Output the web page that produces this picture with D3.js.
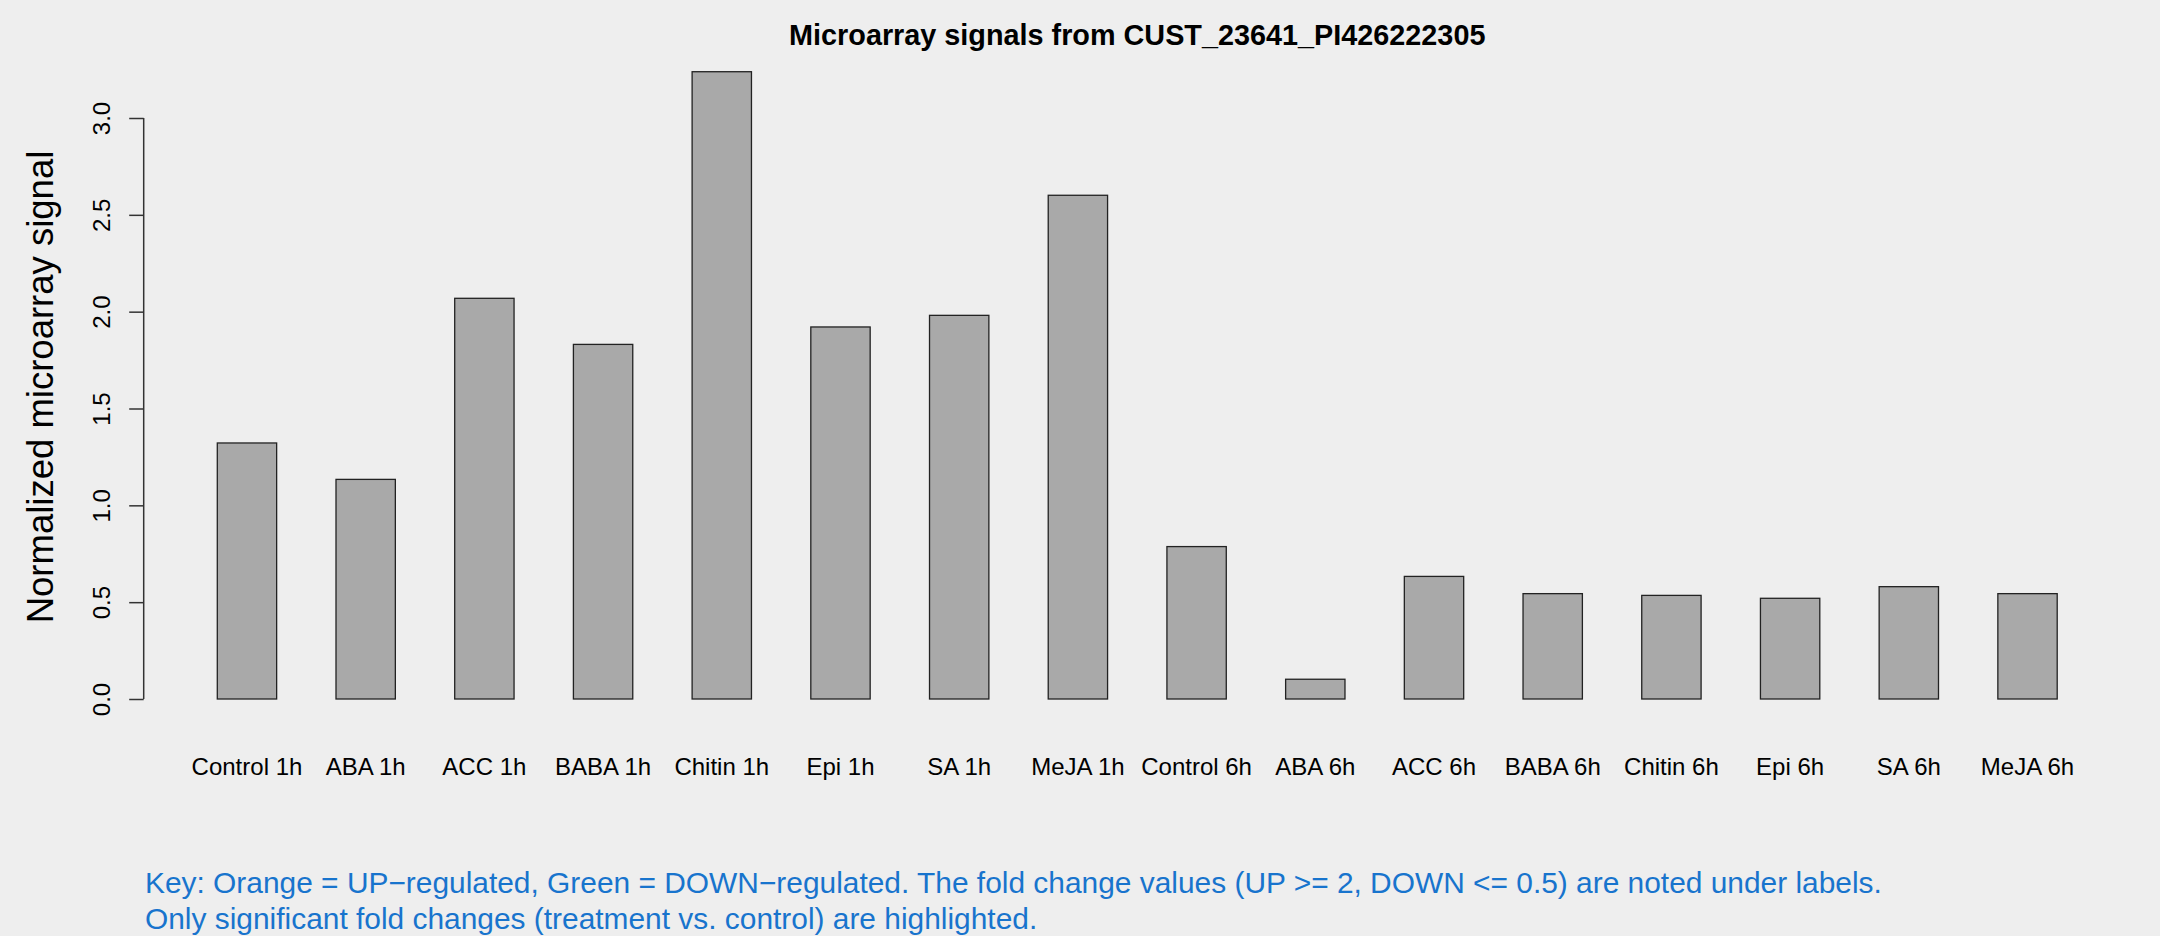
<!DOCTYPE html>
<html>
<head>
<meta charset="utf-8">
<script src="https://cdn.jsdelivr.net/npm/d3@7"></script>
<style>
  html, body { margin: 0; padding: 0; background: #EEEEEE; }
  svg { display: block; }
  text { font-family: "Liberation Sans", Arial, Helvetica, sans-serif; }
</style>
</head>
<body>
<svg id="chart" width="2160" height="936"></svg>
<script>
const categories = ["Control 1h","ABA 1h","ACC 1h","BABA 1h","Chitin 1h","Epi 1h","SA 1h","MeJA 1h",
                    "Control 6h","ABA 6h","ACC 6h","BABA 6h","Chitin 6h","Epi 6h","SA 6h","MeJA 6h"];
const values = [1.322, 1.134, 2.069, 1.831, 3.239, 1.921, 1.981, 2.601,
                0.787, 0.102, 0.633, 0.544, 0.535, 0.520, 0.580, 0.544];
const yTicks = [0, 0.5, 1.0, 1.5, 2.0, 2.5, 3.0];
const titleText = "Microarray signals from CUST_23641_PI426222305";
const yLabel = "Normalized microarray signal";
const keyLines = [
  "Key: Orange = UP\u2212regulated, Green = DOWN\u2212regulated. The fold change values (UP >= 2, DOWN <= 0.5) are noted under labels.",
  "Only significant fold changes (treatment vs. control) are highlighted."
];

const svg = d3.select("#chart");
const W = 2160, H = 936;
svg.append("rect").attr("width", W).attr("height", H).attr("fill", "#EEEEEE");

// barplot geometry (space = 1, width = 1)
const n = categories.length;
const xMin = 1, xMax = 2 * n;
const ext = (xMax - xMin) * 0.04;
const x = d3.scaleLinear().domain([xMin - ext, xMax + ext]).range([143.7, 2130.8]);
const y = d3.scaleLinear().domain([0, 3]).range([699, 118]);

// bars
svg.append("g").selectAll("rect").data(values).join("rect")
  .attr("x", (d, i) => x(1 + 2 * i))
  .attr("width", (d, i) => x(2 + 2 * i) - x(1 + 2 * i))
  .attr("y", d => y(d))
  .attr("height", d => y(0) - y(d))
  .attr("fill", "#A9A9A9")
  .attr("stroke", "#222")
  .attr("stroke-width", 1.3);

// y axis
const yAxis = d3.axisLeft(y).tickValues(yTicks).tickFormat(d3.format(".1f")).tickSize(14.5).tickPadding(0);
const gy = svg.append("g").attr("transform", `translate(${x.range()[0]},0)`).call(yAxis);
gy.select(".domain").attr("stroke", "#333").attr("stroke-width", 1.5)
  .attr("d", `M0,${y(0)}V${y(3)}`);
gy.selectAll(".tick line").attr("stroke", "#333").attr("stroke-width", 1.5);
gy.selectAll(".tick text")
  .attr("font-size", 24)
  .attr("fill", "#000")
  .attr("x", null).attr("dy", null)
  .attr("text-anchor", "middle")
  .attr("transform", "translate(-34,0) rotate(-90)");

// x labels
svg.append("g").selectAll("text").data(categories).join("text")
  .attr("x", (d, i) => x(1.5 + 2 * i))
  .attr("y", 775)
  .attr("text-anchor", "middle")
  .attr("font-size", 24)
  .attr("fill", "#000")
  .text(d => d);

// title
svg.append("text")
  .attr("x", (x.range()[0] + x.range()[1]) / 2)
  .attr("y", 45)
  .attr("text-anchor", "middle")
  .attr("font-size", 28.8)
  .attr("font-weight", "bold")
  .attr("fill", "#000")
  .text(titleText);

// y label
svg.append("text")
  .attr("transform", `translate(53,387) rotate(-90)`)
  .attr("text-anchor", "middle")
  .attr("font-size", 36.5)
  .attr("fill", "#000")
  .text(yLabel);

// key text
svg.append("g").selectAll("text").data(keyLines).join("text")
  .attr("x", 145)
  .attr("y", (d, i) => 893 + i * 36)
  .attr("font-size", 29.9)
  .attr("fill", "#1874CD")
  .text(d => d);
</script>
</body>
</html>
